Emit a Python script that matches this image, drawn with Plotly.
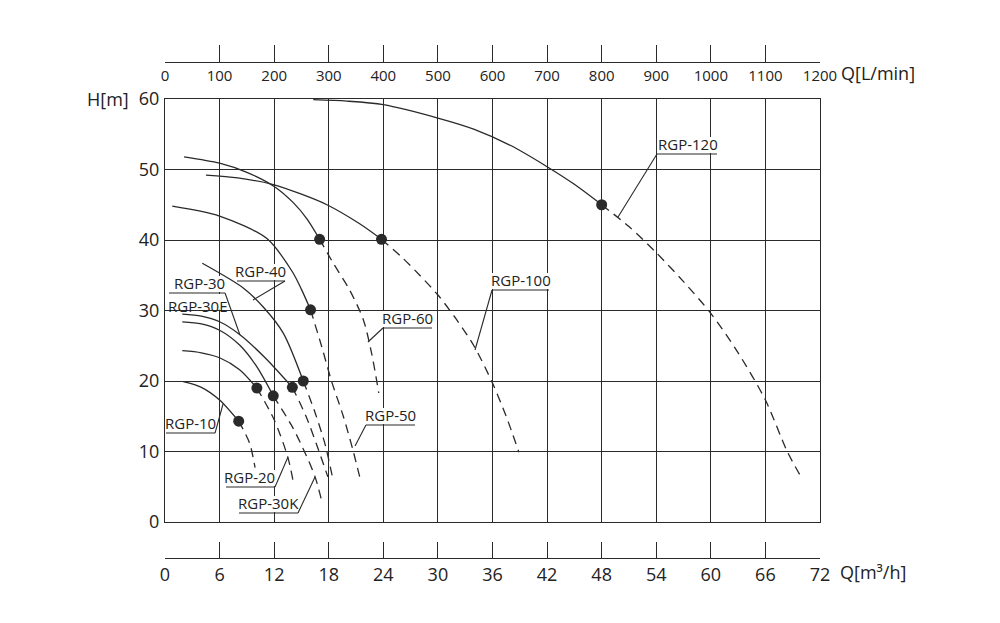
import plotly.graph_objects as go

# ---------------- data ----------------
# flow in m3/h, head in m ; solid = working range, dashed = extended range
rgp10_solid_q = [2.0, 4.0, 6.0, 8.1]
rgp10_solid_h = [19.9, 19.1, 17.3, 14.3]
rgp10_dash_q = [8.1, 9.3, 9.9]
rgp10_dash_h = [14.3, 11.2, 7.7]

rgp20_solid_q = [1.9, 4.0, 6.0, 8.2, 10.1]
rgp20_solid_h = [24.3, 24.0, 23.3, 21.6, 19.0]
rgp20_dash_q = [10.1, 12.0, 13.5, 14.1]
rgp20_dash_h = [19.0, 14.5, 9.2, 5.7]

rgp30k_solid_q = [1.9, 4.0, 6.0, 8.2, 10.0, 11.9]
rgp30k_solid_h = [28.4, 28.1, 27.2, 25.1, 22.2, 17.9]
rgp30k_dash_q = [11.9, 14.0, 15.5, 16.5, 17.3]
rgp30k_dash_h = [17.9, 13.5, 9.5, 6.4, 2.6]

rgp30_solid_q = [1.9, 4.0, 6.0, 8.2, 11.0, 14.0]
rgp30_solid_h = [29.5, 29.2, 28.4, 26.6, 23.3, 19.1]
rgp30_dash_q = [14.0, 15.5, 16.8, 17.9]
rgp30_dash_h = [19.1, 15.0, 10.5, 6.4]

rgp40_solid_q = [4.1, 8.6, 10.8, 13.0, 15.2]
rgp40_solid_h = [36.7, 33.2, 30.5, 26.8, 20.0]
rgp40_dash_q = [15.2, 16.5, 17.6, 18.4]
rgp40_dash_h = [20.0, 15.5, 11.0, 6.4]

rgp50_solid_q = [0.8, 6.0, 11.2, 14.0, 15.0, 16.0]
rgp50_solid_h = [44.8, 43.4, 40.2, 35.5, 33.0, 30.1]
rgp50_dash_q = [16.0, 17.2, 18.3, 19.6, 20.7, 21.4]
rgp50_dash_h = [30.1, 25.0, 20.0, 15.0, 10.0, 6.4]

rgp60_solid_q = [2.1, 6.0, 9.0, 12.0, 14.1, 15.6, 17.0]
rgp60_solid_h = [51.8, 50.9, 49.6, 47.6, 45.3, 43.0, 40.1]
rgp60_dash_q = [17.0, 18.5, 20.3, 21.8, 22.7, 23.5]
rgp60_dash_h = [40.1, 36.7, 32.9, 28.7, 24.0, 18.3]

rgp100_solid_q = [4.5, 8.0, 11.8, 15.0, 17.8, 21.4, 23.8]
rgp100_solid_h = [49.2, 48.8, 47.9, 46.5, 45.0, 42.3, 40.1]
rgp100_dash_q = [23.8, 26.0, 28.0, 30.0, 32.0, 34.0, 36.0, 37.5, 38.9]
rgp100_dash_h = [40.1, 37.6, 35.0, 32.2, 28.8, 24.9, 19.7, 15.0, 9.9]

rgp120_solid_q = [16.3, 20.0, 24.0, 30.0, 34.0, 38.0, 42.0, 45.0, 48.0]
rgp120_solid_h = [59.9, 59.7, 59.2, 57.3, 55.7, 53.4, 50.4, 47.9, 45.0]
rgp120_dash_q = [48.0, 51.0, 54.0, 57.0, 60.0, 63.0, 66.0, 68.4, 70.0]
rgp120_dash_h = [45.0, 41.9, 38.2, 34.1, 29.6, 24.0, 17.3, 10.0, 6.2]

# duty points (dots)
duty_q = [8.1, 10.1, 11.9, 14.0, 15.2, 16.0, 17.0, 23.8, 48.0]
duty_h = [14.3, 19.0, 17.9, 19.1, 20.0, 30.1, 40.1, 40.1, 45.0]

# axes
q_m3h_ticks = list(range(0, 73, 6))
q_lmin_ticks = list(range(0, 1201, 100))
h_ticks = list(range(0, 61, 10))

curves = [
    (rgp10_solid_q, rgp10_solid_h, rgp10_dash_q, rgp10_dash_h),
    (rgp20_solid_q, rgp20_solid_h, rgp20_dash_q, rgp20_dash_h),
    (rgp30k_solid_q, rgp30k_solid_h, rgp30k_dash_q, rgp30k_dash_h),
    (rgp30_solid_q, rgp30_solid_h, rgp30_dash_q, rgp30_dash_h),
    (rgp40_solid_q, rgp40_solid_h, rgp40_dash_q, rgp40_dash_h),
    (rgp50_solid_q, rgp50_solid_h, rgp50_dash_q, rgp50_dash_h),
    (rgp60_solid_q, rgp60_solid_h, rgp60_dash_q, rgp60_dash_h),
    (rgp100_solid_q, rgp100_solid_h, rgp100_dash_q, rgp100_dash_h),
    (rgp120_solid_q, rgp120_solid_h, rgp120_dash_q, rgp120_dash_h),
]

# label layout: text, text centre q, underline h, underline q-range, leader (q0,h0,q1,h1)
labels = [
    ("RGP-120", 57.49, 52.2, (54.08, 60.68), (54.08, 52.2, 49.80, 43.26)),
    ("RGP-100", 39.13, 32.91, (35.95, 42.21), (35.95, 32.91, 34.08, 24.40)),
    ("RGP-60", 26.71, 27.52, (23.96, 29.35), (23.96, 27.52, 22.31, 25.53)),
    ("RGP-50", 24.79, 13.76, (22.09, 27.48), (22.09, 13.76, 20.89, 10.78)),
    ("RGP-40", 10.55, 34.18, (7.91, 13.19), (13.19, 34.18, 9.67, 31.49)),
    ("RGP-30", 3.74, 32.48, (0.44, 6.60), (6.60, 32.48, 8.24, 26.52)),
    ("RGP-10", 2.75, 12.62, (0.11, 5.50), (5.50, 12.62, 6.38, 16.74)),
    ("RGP-20", 9.34, 4.96, (6.71, 12.09), (12.09, 4.96, 13.52, 9.22)),
    ("RGP-30K", 11.38, 1.28, (8.13, 14.62), (14.62, 1.28, 16.49, 6.38)),
]

INK = "#2a2a2a"
TXT = "#222"
LABEL_FONT = dict(family="Open Sans", size=15, color=TXT)
fig = go.Figure()

for sq, sh, dq, dh in curves:
    fig.add_trace(go.Scatter(x=sq, y=sh, mode="lines",
                             line=dict(color=INK, width=1.3, shape="spline", smoothing=0.8),
                             hoverinfo="skip", showlegend=False))
    fig.add_trace(go.Scatter(x=dq, y=dh, mode="lines",
                             line=dict(color=INK, width=1.3, dash="9px,6px", shape="spline", smoothing=0.8),
                             hoverinfo="skip", showlegend=False))

fig.add_trace(go.Scatter(x=duty_q, y=duty_h, mode="markers", marker=dict(color=INK, size=11),
                         hoverinfo="skip", showlegend=False))

# invisible traces to carry the two outer flow axes
fig.add_trace(go.Scatter(x=[0, 72], y=[0, 0], xaxis="x2", yaxis="y", mode="markers",
                         marker=dict(opacity=0), hoverinfo="skip", showlegend=False))
fig.add_trace(go.Scatter(x=[0, 1200], y=[0, 0], xaxis="x3", yaxis="y", mode="markers",
                         marker=dict(opacity=0), hoverinfo="skip", showlegend=False))

annotations = []
shapes = []
for text, cq, uh, (u0, u1), (l0q, l0h, l1q, l1h) in labels:
    annotations.append(dict(x=cq, y=uh, xref="x", yref="y", text=text, showarrow=False,
                            xanchor="center", yanchor="bottom", yshift=-2, font=LABEL_FONT))
    # white patch that interrupts the grid behind the label text
    shapes.append(dict(type="rect", xref="x", yref="y", layer="between", x0=u0, x1=u1,
                       y0=uh + 0.15, y1=uh + 2.4, fillcolor="white", line=dict(width=0)))
    shapes.append(dict(type="line", xref="x", yref="y", x0=u0, x1=u1, y0=uh, y1=uh,
                       line=dict(color=INK, width=1.1)))
    shapes.append(dict(type="line", xref="x", yref="y", x0=l0q, y0=l0h, x1=l1q, y1=l1h,
                       line=dict(color=INK, width=1.1)))

# RGP-30E sits just under the RGP-30 underline
annotations.append(dict(x=3.63, y=32.48, xref="x", yref="y", text="RGP-30E", showarrow=False,
                        xanchor="center", yanchor="top", yshift=-1, font=LABEL_FONT))
shapes.append(dict(type="rect", xref="x", yref="y", layer="between", x0=0.5, x1=6.8,
                   y0=30.1, y1=32.33, fillcolor="white", line=dict(width=0)))

# axis titles
annotations.append(dict(x=-0.052, y=60, xref="paper", yref="y", text="H[m]", showarrow=False,
                        xanchor="right", yanchor="middle", font=dict(family="Open Sans", size=18, color=TXT)))
annotations.append(dict(x=1.0285, y=0.978, xref="paper", yref="paper", text="Q[L/min]", showarrow=False,
                        xanchor="left", yanchor="middle", font=dict(family="Open Sans", size=18, color=TXT)))
annotations.append(dict(x=1.0275, y=-0.028, xref="paper", yref="paper", text="Q[m³/h]", showarrow=False,
                        xanchor="left", yanchor="middle", font=dict(family="Open Sans", size=18, color=TXT)))

yd0 = (558 - 522) / 496
yd1 = (558 - 99) / 496

# the page body adds an 8 px offset, so the figure is 8 px smaller and margins shifted
fig.update_layout(
    width=992, height=615,
    margin=dict(l=157, r=180, t=54, b=65),
    paper_bgcolor="white", plot_bgcolor="white",
    showlegend=False,
    font=dict(family="Open Sans", color=TXT),
    xaxis=dict(range=[0, 72], tickvals=q_m3h_ticks, showticklabels=False, ticks="",
               showgrid=True, gridcolor=INK, gridwidth=1.2, zeroline=False,
               showline=True, linecolor=INK, linewidth=1.3, mirror=True, fixedrange=True),
    yaxis=dict(domain=[yd0, yd1], range=[0, 60], tickvals=h_ticks, ticks="",
               showgrid=True, gridcolor=INK, gridwidth=1.2, zeroline=False,
               showline=True, linecolor=INK, linewidth=1.3, mirror=True,
               tickfont=dict(family="Open Sans", size=18, color=TXT), ticklabelstandoff=1, fixedrange=True),
    xaxis2=dict(overlaying="x", anchor="free", position=0, side="bottom", range=[0, 72],
                tickvals=q_m3h_ticks, ticks="inside", ticklen=16, tickwidth=1.2, tickcolor=INK,
                showline=True, linecolor=INK, linewidth=1.3, showgrid=False, zeroline=False,
                tickfont=dict(family="Open Sans", size=18, color=TXT), fixedrange=True),
    xaxis3=dict(overlaying="x", anchor="free", position=1, side="bottom", range=[0, 1200],
                tickvals=q_lmin_ticks, ticks="inside", ticklen=17, tickwidth=1.2, tickcolor=INK,
                showline=True, linecolor=INK, linewidth=1.3, showgrid=False, zeroline=False,
                tickfont=dict(family="Open Sans", size=15, color=TXT), fixedrange=True),
    annotations=annotations,
    shapes=shapes,
)

fig.write_html("out.html")
